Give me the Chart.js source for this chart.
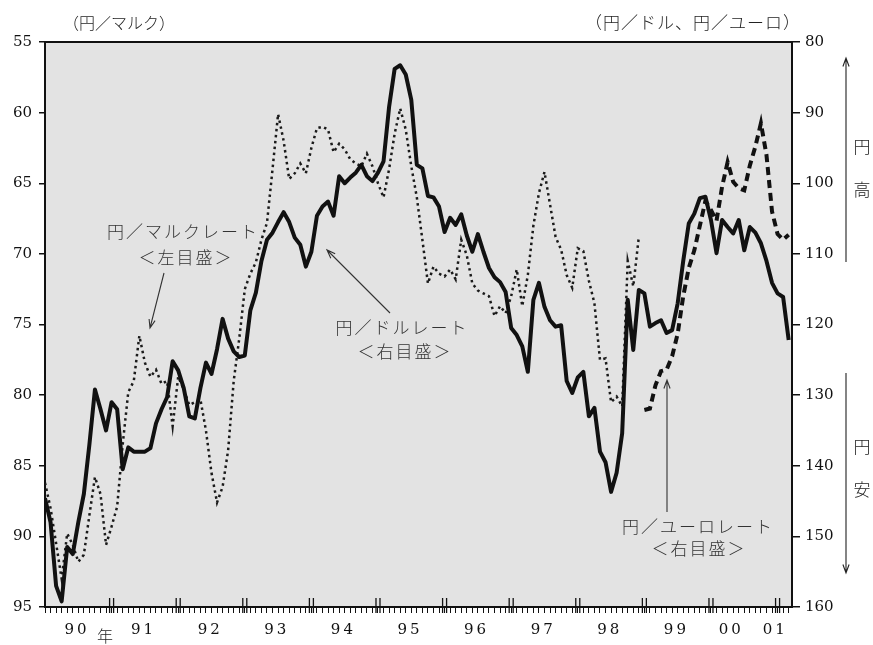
<!DOCTYPE html>
<html>
<head>
<meta charset="utf-8">
<script src="https://cdn.jsdelivr.net/npm/chart.js@4.4.0/dist/chart.umd.min.js"></script>
<style>
  html, body { margin: 0; padding: 0; background: #fff; }
</style>
</head>
<body>
<canvas id="myChart" width="873" height="645"></canvas>
<script>
// month index: 0 = Jan 1990 (month-end rates)
var yearLabels = ['90', '91', '92', '93', '94', '95', '96', '97', '98', '99', '00', '01'];

// yen / dollar, right axis
var usdStart = 0;
var usdJpy = [
  144.6, 148, 157, 159.2, 151.5, 152.5, 148, 144, 137, 129.2,
  132, 135, 131, 132, 140.5, 137.4, 138, 138, 138, 137.5,
  134, 132, 130.3, 125.2, 126.5, 129, 133, 133.3, 129, 125.4,
  127, 123.5, 119.2, 122, 123.8, 124.6, 124.4, 118, 115.5, 111,
  108, 107, 105.5, 104.1, 105.5, 107.7, 108.7, 111.8, 109.7, 104.6,
  103.3, 102.6, 104.6, 99, 100, 99.2, 98.5, 97.4, 99, 99.7,
  98.5, 96.9, 89.2, 83.8, 83.3, 84.6, 88.2, 97.4, 97.9, 101.8,
  102, 103.3, 106.9, 104.9, 105.9, 104.4, 107.4, 109.7, 107.2, 109.7,
  112, 113.3, 114, 115.4, 120.5, 121.5, 123.1, 126.7, 116.5, 114.1,
  117.5, 119.4, 120.3, 120.1, 128, 129.7, 127.5, 126.7, 133, 131.8,
  138, 139.5, 143.7, 141, 135.4, 116.5, 123.6, 115.1, 115.6, 120.3,
  119.8, 119.4, 121.2, 120.8, 117, 111, 105.7, 104.3, 102.1, 101.9,
  105.2, 109.9, 105.2, 106.2, 107.1, 105.2, 109.5, 106.2, 107, 108.5,
  111, 114.1, 115.6, 116.1, 122.2
];

// yen / mark, left axis (ends Dec 1998)
var dmStart = 0;
var dmJpy = [
  86.2, 88, 90.5, 93, 89.8, 90.6, 91.8, 91.3, 88.5, 85.8,
  87, 90.6, 89.3, 87.9, 83.5, 79.8, 79, 75.8, 77.7, 78.7,
  78.2, 79.2, 79, 82.2, 78.7, 79.6, 80.7, 80.5, 80.3, 82.5,
  85.5, 87.6, 86.5, 83.9, 79, 76, 72.5, 71.4, 70.6, 69,
  67.8, 64, 60.1, 62, 64.7, 64.3, 63.6, 64.3, 62.5, 61.1,
  61, 61.2, 62.8, 62.2, 62.6, 63.3, 63.6, 63.8, 62.9, 63.8,
  65, 66, 64, 61.5, 59.7, 61.2, 63.8, 66, 69, 72.1,
  70.9, 71.4, 71.6, 71.1, 71.8, 69, 70.1, 72.1, 72.6, 72.8,
  73, 74.4, 73.7, 74.2, 73, 71.1, 73.7, 71.5, 68, 65.7,
  64.2, 66.5, 68.8, 69.7, 71.5, 72.4, 69.6, 69.8, 71.9, 73.5,
  77.5, 77.4, 80.5, 80.1, 80.8, 70.5, 72.3, 68.8
];

// yen / euro, right axis (from Jan 1999)
var euroStart = 108;
var euroJpy = [
  132.1, 131.9, 128.6, 126.6, 126.4, 124.5, 121.3, 116, 112, 109.5,
  106, 102.5, 103.8, 105.3, 100.5, 97, 99.8, 100.7, 101, 97.5,
  94.8, 91.5, 96, 104, 107.2, 108, 107.3
];

var lastMonth = 134;

function toPoints(start, arr) {
  return arr.map(function (v, i) { return { x: start + i, y: v }; });
}

var serif = 'DejaVu Serif';
var jp = '"Noto Sans CJK JP"';

function arrow(ctx, x1, y1, x2, y2) {
  var a = Math.atan2(y2 - y1, x2 - x1), h = 9;
  ctx.beginPath();
  ctx.moveTo(x1, y1);
  ctx.lineTo(x2, y2);
  ctx.moveTo(x2 - h * Math.cos(a - 0.35), y2 - h * Math.sin(a - 0.35));
  ctx.lineTo(x2, y2);
  ctx.lineTo(x2 - h * Math.cos(a + 0.35), y2 - h * Math.sin(a + 0.35));
  ctx.stroke();
}

function text(ctx, s, x, y, size, spacing) {
  ctx.font = '300 ' + size + 'px ' + jp;
  ctx.letterSpacing = (spacing || 0) + 'px';
  ctx.fillText(s, x, y);
  ctx.letterSpacing = '0px';
}

var decorations = {
  id: 'decorations',
  beforeDraw: function (chart) {
    var a = chart.chartArea, ctx = chart.ctx;
    ctx.save();
    ctx.fillStyle = '#e3e3e3';
    ctx.fillRect(a.left, a.top, a.right - a.left, a.bottom - a.top);
    ctx.restore();
  },
  afterDraw: function (chart) {
    var a = chart.chartArea, ctx = chart.ctx, xs = chart.scales.x;
    ctx.save();
    // top frame line
    ctx.strokeStyle = '#111';
    ctx.lineWidth = 2;
    ctx.beginPath();
    ctx.moveTo(a.left, a.top);
    ctx.lineTo(a.right, a.top);
    ctx.stroke();

    // double ticks at year boundaries
    ctx.lineWidth = 1.3;
    for (var m = 12; m <= lastMonth; m += 12) {
      var px = xs.getPixelForValue(m);
      [-2, 2].forEach(function (d) {
        ctx.beginPath();
        ctx.moveTo(px + d, a.bottom - 9);
        ctx.lineTo(px + d, a.bottom + 6);
        ctx.stroke();
      });
    }

    // year labels
    ctx.fillStyle = '#111';
    ctx.textAlign = 'center';
    ctx.textBaseline = 'middle';
    ctx.font = '15px ' + serif;
    ctx.letterSpacing = '3px';
    yearLabels.forEach(function (lab, i) {
      var pos = 12 * i + 5.5;
      if (lab === '00') pos = 123.4;
      if (lab === '01') pos = 131.3;
      ctx.fillText(lab, xs.getPixelForValue(pos) + 1.5, 630);
    });
    ctx.letterSpacing = '0px';
    ctx.fillStyle = '#222';
    text(ctx, '年', 105, 636, 16, 0);

    // axis titles
    text(ctx, '（円／マルク）', 119, 23, 16, 0);
    text(ctx, '（円／ドル、円／ユーロ）', 693, 23, 17, 1);

    // series annotations
    ctx.fillStyle = '#333';
    ctx.strokeStyle = '#333';
    ctx.lineWidth = 1.1;
    text(ctx, '円／マルクレート', 183, 232, 17, 2);
    text(ctx, '＜左目盛＞', 186, 258, 17, 2);
    arrow(ctx, 164, 273, 150, 328);

    text(ctx, '円／ドルレート', 402, 328, 17, 2);
    text(ctx, '＜右目盛＞', 405, 352, 17, 2);
    arrow(ctx, 390, 313, 327, 250);

    text(ctx, '円／ユーロレート', 698, 527, 17, 2);
    text(ctx, '＜右目盛＞', 699, 549, 17, 2);
    arrow(ctx, 667, 512, 667, 380);

    // yen strong / weak arrows
    ctx.strokeStyle = '#222';
    ctx.fillStyle = '#222';
    arrow(ctx, 846, 262, 846, 58);
    arrow(ctx, 846, 373, 846, 573);
    text(ctx, '円', 862, 147, 17, 0);
    text(ctx, '高', 862, 190, 17, 0);
    text(ctx, '円', 862, 447, 17, 0);
    text(ctx, '安', 862, 490, 17, 0);
    ctx.restore();
  }
};

var ctx = document.getElementById('myChart').getContext('2d');
var myChart = new Chart(ctx, {
  type: 'line',
  data: {
    datasets: [{
      label: '円／ドルレート',
      data: toPoints(usdStart, usdJpy),
      yAxisID: 'yR',
      borderColor: '#111',
      borderWidth: 4,
      borderJoinStyle: 'round',
      pointRadius: 0,
      tension: 0
    }, {
      label: '円／ユーロレート',
      data: toPoints(euroStart, euroJpy),
      yAxisID: 'yR',
      borderColor: '#111',
      borderWidth: 4,
      borderDash: [8, 5],
      pointRadius: 0,
      tension: 0
    }, {
      label: '円／マルクレート',
      data: toPoints(dmStart, dmJpy),
      yAxisID: 'yL',
      borderColor: '#1a1a1a',
      borderWidth: 2.5,
      borderDash: [2.5, 3.5],
      pointRadius: 0,
      tension: 0
    }]
  },
  options: {
    responsive: false,
    animation: false,
    layout: { padding: { top: 42, left: 0, right: 0, bottom: 0 } },
    plugins: {
      legend: { display: false },
      tooltip: { enabled: false }
    },
    scales: {
      x: {
        type: 'linear',
        min: 0,
        max: lastMonth + 0.6,
        afterBuildTicks: function (s) {
          var t = [];
          for (var m = 0; m <= lastMonth; m++) t.push({ value: m });
          s.ticks = t;
        },
        ticks: { display: false },
        grid: { drawOnChartArea: false, tickLength: 6, color: '#111', lineWidth: 1 },
        border: { color: '#111', width: 2 },
        afterFit: function (s) { s.height = 38; }
      },
      yL: {
        position: 'left',
        min: 55,
        max: 95,
        reverse: true,
        ticks: { stepSize: 5, color: '#111', padding: 7, font: { family: serif, size: 15 } },
        grid: { drawOnChartArea: false, tickLength: 6, color: '#111', lineWidth: 1.5 },
        border: { color: '#111', width: 2 },
        afterFit: function (s) { s.width = 45; }
      },
      yR: {
        position: 'right',
        min: 80,
        max: 160,
        reverse: true,
        ticks: { stepSize: 10, color: '#111', padding: 5, font: { family: serif, size: 15 } },
        grid: { drawOnChartArea: false, tickLength: 8, color: '#111', lineWidth: 1.5 },
        border: { color: '#111', width: 2 },
        afterFit: function (s) { s.width = 81; }
      }
    }
  },
  plugins: [decorations]
});
</script>
</body>
</html>
